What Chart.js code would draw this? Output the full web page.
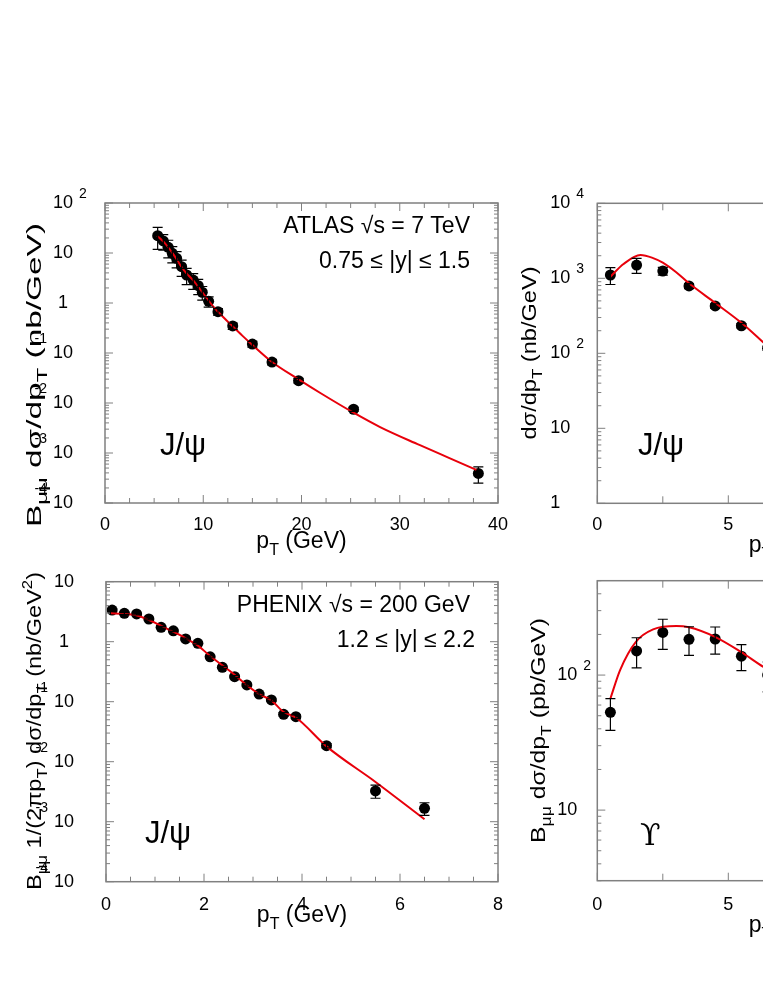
<!DOCTYPE html>
<html>
<head>
<meta charset="utf-8">
<script src="https://cdn.jsdelivr.net/npm/chart.js@4.4.0/dist/chart.umd.min.js"></script>
<style>
  html, body { margin: 0; padding: 0; background: #fff; overflow: hidden; }
  body { width: 763px; height: 987px; position: relative; }
  canvas { position: absolute; }
</style>
</head>
<body>
<canvas id="atlasChart" width="520" height="380" style="left:0;top:180px"></canvas>
<canvas id="lowPtChart" width="500" height="380" style="left:520px;top:180px"></canvas>
<canvas id="phenixChart" width="520" height="400" style="left:0;top:560px"></canvas>
<canvas id="upsilonChart" width="500" height="400" style="left:520px;top:560px"></canvas>
<script>
// ATLAS J/psi, 0.75 <= |y| <= 1.5
const atlasPt = [5.36, 5.93, 6.44, 6.85, 7.29, 7.80, 8.31, 8.98, 9.49, 9.90, 10.55, 11.5, 13.0, 15.0, 17.0, 19.7, 25.3, 38.0];
const atlasXsec = [22.2, 17.4, 13.0, 9.86, 7.83, 5.32, 3.63, 2.88, 2.22, 1.64, 1.08, 0.67, 0.347, 0.151, 0.066, 0.028, 0.0075, 0.00039];
const atlasErr = [10.4, 6, 5, 3.5, 2.8, 1.9, 1.3, 1.0, 0.75, 0.5, 0.25, 0.1, 0.05, 0.02, 0.008, 0.003, 0.0007, 0.00014];
const atlasFitPt = [5.3, 6, 7, 8, 9, 10, 11, 12, 13, 14, 15, 17, 19.7, 22, 25.3, 28, 32, 35, 37.8];
const atlasFit = [22, 16.5, 9.2, 4.6, 2.8, 1.55, 0.86, 0.53, 0.34, 0.22, 0.145, 0.066, 0.0297, 0.0155, 0.0064, 0.0033, 0.00145, 0.0008, 0.00046];

// low-pT J/psi (right, cut off)
const lowPtPt = [0.5, 1.5, 2.5, 3.5, 4.5, 5.5, 6.5];
const lowPtXsec = [1107, 1500, 1250, 790, 428, 233, 117];
const lowPtErr = [280, 340, 150, 60, 30, 15, 8];
const lowPtFitPt = [0.5, 1.0, 1.65, 2.13, 2.5, 3.0, 3.5, 4.5, 5.5, 6.33, 6.6];
const lowPtFit = [1050, 1550, 2040, 1860, 1620, 1215, 857, 470, 255, 140, 115];

// PHENIX J/psi, 1.2 <= |y| <= 2.2
const phenixPt = [0.125, 0.375, 0.625, 0.875, 1.125, 1.375, 1.625, 1.875, 2.125, 2.375, 2.625, 2.875, 3.125, 3.375, 3.625, 3.875, 4.5, 5.5, 6.5];
const phenixXsec = [3.37, 2.97, 2.90, 2.39, 1.74, 1.52, 1.11, 0.94, 0.56, 0.374, 0.261, 0.190, 0.134, 0.107, 0.0616, 0.0562, 0.0185, 0.00326, 0.00167];
const phenixErr = [0.15, 0.12, 0.1, 0.08, 0.06, 0.05, 0.04, 0.03, 0.02, 0.015, 0.01, 0.008, 0.006, 0.005, 0.004, 0.004, 0.0015, 0.0008, 0.0004];
const phenixFitPt = [0.1, 0.35, 0.6, 0.88, 1.12, 1.37, 1.63, 1.87, 2.1, 2.38, 2.63, 2.87, 3.12, 3.38, 3.62, 3.88, 4.5, 5.5, 6.5];
const phenixFit = [2.97, 2.92, 2.79, 2.30, 1.85, 1.47, 1.14, 0.87, 0.60, 0.40, 0.279, 0.19, 0.135, 0.104, 0.068, 0.054, 0.018, 0.0046, 0.0011];

// Upsilon (right, cut off)
const upsPt = [0.5, 1.5, 2.5, 3.5, 4.5, 5.5, 6.5];
const upsXsec = [53, 151, 207, 184, 185, 138, 100];
const upsErr = [14, 38, 52, 44, 42, 30, 25];
const upsFitPt = [0.5, 0.87, 1.48, 2.13, 3.02, 3.5, 4.49, 5.47, 6.34, 6.6];
const upsFit = [67, 109, 177, 218, 231, 226, 192, 149, 115, 108];

// y tick labels: [value, base, exponent]
const atlasYLabels = [[100, "10", "2"], [10, "10", ""], [1, "1", ""], [0.1, "10", "-1"], [0.01, "10", "-2"], [0.001, "10", "-3"], [0.0001, "10", "-4"]];
const lowPtYLabels = [[10000, "10", "4"], [1000, "10", "3"], [100, "10", "2"], [10, "10", ""], [1, "1", ""]];
const phenixYLabels = [[10, "10", ""], [1, "1", ""], [0.1, "10", "-1"], [0.01, "10", "-2"], [0.001, "10", "-3"], [0.0001, "10", "-4"]];
const upsYLabels = [[100, "10", "2"], [10, "10", ""]];

const atlasXTicks = [0, 10, 20, 30, 40];
const rightXTicks = [0, 5, 10, 15];
const phenixXTicks = [0, 2, 4, 6, 8];

const FONT = "'Liberation Sans', Arial, sans-serif";
const pairs = (xs, ys) => xs.map((v, i) => ({ x: v, y: ys[i] }));

// text with sub/superscripts: parts = [[text, kind], ...]
// fit: optional length the text is stretched to
function drawRich(ctx, parts, x, y, size, align, fit) {
  const fontOf = k => (k ? Math.round(size * 0.7) : size) + "px " + FONT;
  let w = 0;
  parts.forEach(p => { ctx.font = fontOf(p[1]); w += ctx.measureText(p[0]).width; });
  ctx.save();
  ctx.translate(x, y);
  if (fit) ctx.scale(fit / w, 1);
  let cx = align === "center" ? -w / 2 : align === "right" ? -w : 0;
  ctx.textAlign = "left";
  ctx.textBaseline = "alphabetic";
  parts.forEach(p => {
    ctx.font = fontOf(p[1]);
    const dy = p[1] === "sub" ? size * 0.3 : p[1] === "sup" ? -size * 0.42 : 0;
    ctx.fillText(p[0], cx, dy);
    cx += ctx.measureText(p[0]).width;
  });
  ctx.restore();
}

const errorBars = {
  id: "errorBars",
  afterDatasetsDraw(chart, args, o) {
    const { ctx, scales: { x, y } } = chart;
    const pts = chart.data.datasets[1].data;
    ctx.save();
    ctx.strokeStyle = "#000";
    ctx.lineWidth = 1.2;
    pts.forEach((p, i) => {
      const e = o.errors[i];
      const px = x.getPixelForValue(p.x);
      const yHi = y.getPixelForValue(p.y + e);
      const yLo = y.getPixelForValue(Math.max(p.y - e, y.min));
      ctx.beginPath();
      ctx.moveTo(px, yHi); ctx.lineTo(px, yLo);
      ctx.moveTo(px - 5, yHi); ctx.lineTo(px + 5, yHi);
      ctx.moveTo(px - 5, yLo); ctx.lineTo(px + 5, yLo);
      ctx.stroke();
    });
    ctx.restore();
  }
};

const decor = {
  id: "decor",
  afterDraw(chart, args, o) {
    const { ctx, chartArea: a, scales: { x, y } } = chart;
    ctx.save();
    ctx.strokeStyle = "#808080";
    ctx.lineWidth = 1;
    const seg = (x1, y1, x2, y2) => { ctx.beginPath(); ctx.moveTo(x1, y1); ctx.lineTo(x2, y2); ctx.stroke(); };

    // x ticks, bottom and top, pointing in
    for (let v = x.min; v <= x.max + 1e-9; v += o.xMinorStep) {
      const px = x.getPixelForValue(v);
      const len = o.xTicks.includes(v) ? 8 : o.xMinorLen;
      seg(px, a.bottom, px, a.bottom - len);
      seg(px, a.top, px, a.top + len);
    }
    // y ticks (log), left and right
    const d0 = Math.floor(Math.log10(y.min)), d1 = Math.ceil(Math.log10(y.max));
    for (let d = d0; d <= d1; d++) {
      for (let m = 1; m <= 9; m++) {
        const v = m * Math.pow(10, d);
        if (v < y.min * 0.999 || v > y.max * 1.001) continue;
        const py = y.getPixelForValue(v);
        const len = m === 1 ? 8 : 4;
        seg(a.left, py, a.left + len, py);
        seg(a.right, py, a.right - len, py);
      }
    }
    // frame
    ctx.lineWidth = 1.5;
    ctx.strokeRect(a.left, a.top, a.right - a.left, a.bottom - a.top);

    ctx.fillStyle = "#000";
    // y title, rotated and stretched along its length
    ctx.save();
    ctx.translate(o.yTitle.x, o.yTitle.y);
    ctx.rotate(-Math.PI / 2);
    drawRich(ctx, o.yTitle.parts, 0, 0, 21, o.yTitle.align, o.yTitle.len);
    ctx.restore();
    // x tick labels
    ctx.font = "18px " + FONT;
    ctx.textAlign = "center";
    ctx.textBaseline = "alphabetic";
    o.xTicks.forEach(v => ctx.fillText(String(v), x.getPixelForValue(v), a.bottom + o.xLabelGap));
    // y tick labels
    o.yLabels.forEach(([v, base, exp]) => {
      const py = y.getPixelForValue(v);
      ctx.font = "18px " + FONT;
      ctx.textBaseline = "middle";
      ctx.textAlign = "left";
      const bw = ctx.measureText(base).width;
      const bx = o.yLabelAlign === "center" ? a.left - o.yLabelOffset - bw / 2 : a.left - o.yLabelOffset;
      ctx.fillText(base, bx, py);
      if (exp) {
        ctx.font = "14px " + FONT;
        if (exp[0] === "-") { ctx.textAlign = "right"; ctx.fillText(exp, bx - 6, py - 14); }
        else { ctx.fillText(exp, bx + bw + 6, py - 9); }
      }
    });
    // x title
    drawRich(ctx, [["p", ""], ["T", "sub"], [" (GeV)", ""]], (a.left + a.right) / 2, a.bottom + o.xTitleGap, 23, "center");
    // notes
    o.notes.forEach(n => {
      if (n.serif) {
        ctx.font = n.size + "px 'DejaVu Serif', 'Liberation Serif', serif";
        ctx.textAlign = "left"; ctx.textBaseline = "alphabetic";
        ctx.fillText(n.text, n.x, n.y);
      } else {
        drawRich(ctx, [[n.text, ""]], n.x, n.y, n.size, n.align);
      }
    });
    ctx.restore();
  }
};

function makePanel(id, c) {
  return new Chart(document.getElementById(id), {
    type: "scatter",
    data: {
      datasets: [
        {
          data: pairs(c.fitX, c.fitY),
          showLine: true,
          borderColor: "#e8000b",
          borderWidth: 2,
          pointRadius: 0,
          cubicInterpolationMode: "monotone",
          fill: false
        },
        {
          data: pairs(c.ptX, c.ptY),
          showLine: false,
          pointRadius: 5.5,
          pointBackgroundColor: "#000",
          pointBorderColor: "#000",
          pointBorderWidth: 0
        }
      ]
    },
    options: {
      responsive: false,
      animation: false,
      devicePixelRatio: 1,
      events: [],
      layout: { padding: c.pad },
      scales: {
        x: { type: "linear", min: c.xMin, max: c.xMax, display: false },
        y: { type: "logarithmic", min: c.yMin, max: c.yMax, display: false }
      },
      plugins: {
        legend: { display: false },
        tooltip: { enabled: false },
        errorBars: { errors: c.err },
        decor: c.decor
      }
    },
    plugins: [errorBars, decor]
  });
}

const bmm = [["B", ""], ["μμ", "sub"]];
const dsig = [[" dσ/dp", ""], ["T", "sub"]];

makePanel("atlasChart", {
  fitX: atlasFitPt, fitY: atlasFit, ptX: atlasPt, ptY: atlasXsec, err: atlasErr,
  xMin: 0, xMax: 40, yMin: 1e-4, yMax: 100,
  pad: { left: 105, right: 22, top: 23, bottom: 57 },
  decor: {
    xTicks: atlasXTicks, xMinorStep: 2.5, xMinorLen: 5, xLabelGap: 27, xTitleGap: 45,
    yLabels: atlasYLabels, yLabelAlign: "center", yLabelOffset: 42,
    yTitle: { x: 41, y: 347, align: "left", len: 304, parts: bmm.concat(dsig, [[" (nb/GeV)", ""]]) },
    notes: [
      { text: "ATLAS √s = 7 TeV", x: 470, y: 53, size: 23, align: "right" },
      { text: "0.75 ≤ |y| ≤ 1.5", x: 470, y: 88, size: 23, align: "right" },
      { text: "J/ψ", x: 160, y: 275, size: 31, align: "left" }
    ]
  }
});

makePanel("lowPtChart", {
  fitX: lowPtFitPt, fitY: lowPtFit, ptX: lowPtPt, ptY: lowPtXsec, err: lowPtErr,
  xMin: 0, xMax: 15, yMin: 1, yMax: 10000,
  pad: { left: 77.3, right: 29.7, top: 23.3, bottom: 56.7 },
  decor: {
    xTicks: rightXTicks, xMinorStep: 2.5, xMinorLen: 7, xLabelGap: 27, xTitleGap: 49,
    yLabels: lowPtYLabels, yLabelAlign: "left", yLabelOffset: 47,
    yTitle: { x: 16, y: 173, align: "center", len: 173, parts: [["dσ/dp", ""], ["T", "sub"], [" (nb/GeV)", ""]] },
    notes: [
      { text: "J/ψ", x: 118, y: 275, size: 31, align: "left" }
    ]
  }
});

makePanel("phenixChart", {
  fitX: phenixFitPt, fitY: phenixFit, ptX: phenixPt, ptY: phenixXsec, err: phenixErr,
  xMin: 0, xMax: 8, yMin: 1e-4, yMax: 10,
  pad: { left: 106, right: 22, top: 21.7, bottom: 78.3 },
  decor: {
    xTicks: phenixXTicks, xMinorStep: 0.5, xMinorLen: 5, xLabelGap: 28, xTitleGap: 40,
    yLabels: phenixYLabels, yLabelAlign: "center", yLabelOffset: 42,
    yTitle: { x: 41, y: 330, align: "left", len: 318, parts: bmm.concat([[" 1/(2πp", ""], ["T", "sub"], [")", ""]], dsig, [[" (nb/GeV", ""], ["2", "sup"], [")", ""]]) },
    notes: [
      { text: "PHENIX √s = 200 GeV", x: 470, y: 52, size: 23, align: "right" },
      { text: "1.2 ≤ |y| ≤ 2.2", x: 475, y: 87, size: 23, align: "right" },
      { text: "J/ψ", x: 145, y: 283, size: 31, align: "left" }
    ]
  }
});

makePanel("upsilonChart", {
  fitX: upsFitPt, fitY: upsFit, ptX: upsPt, ptY: upsXsec, err: upsErr,
  xMin: 0, xMax: 15, yMin: 3, yMax: 500,
  pad: { left: 77.3, right: 29.7, top: 20.7, bottom: 79.3 },
  decor: {
    xTicks: rightXTicks, xMinorStep: 2.5, xMinorLen: 7, xLabelGap: 29, xTitleGap: 51,
    yLabels: upsYLabels, yLabelAlign: "left", yLabelOffset: 40,
    yTitle: { x: 25, y: 283, align: "left", len: 225, parts: bmm.concat(dsig, [[" (pb/GeV)", ""]]) },
    notes: [
      { text: "ϒ", x: 120, y: 285, size: 30, serif: true }
    ]
  }
});
</script>
</body>
</html>
